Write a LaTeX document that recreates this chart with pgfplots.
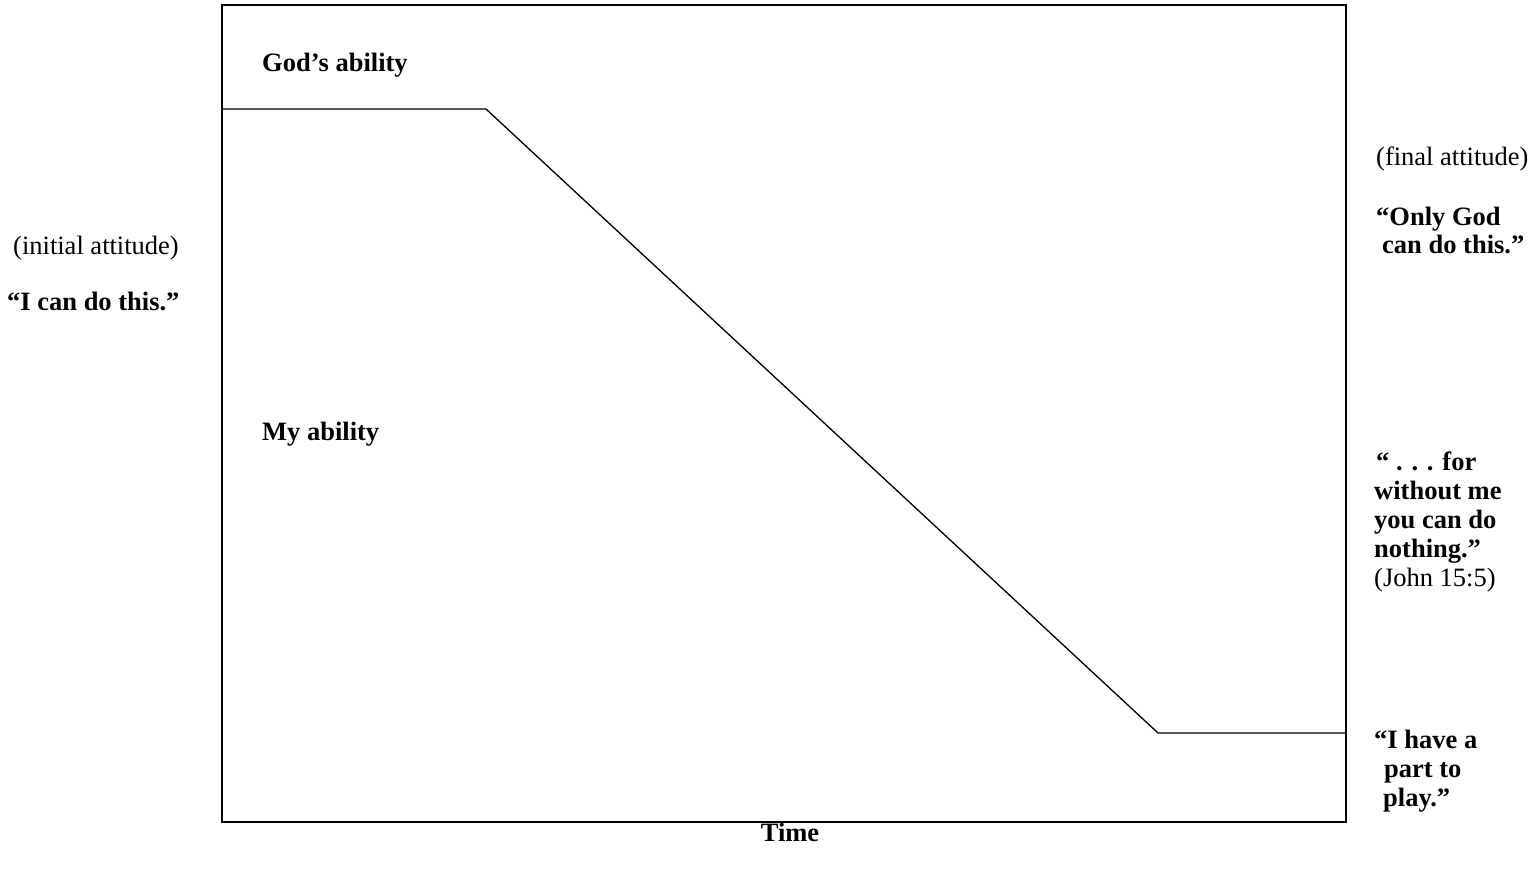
\documentclass[border=0pt]{standalone}
\usepackage{pgfplots}
\pgfplotsset{compat=1.18}
\usepackage{fontspec}
\setmainfont{Liberation Serif}
\begin{document}
\fontsize{26.5}{30}\selectfont
\begin{tikzpicture}[lbl/.style={inner sep=0pt, anchor=base west, font=\fontsize{26.5}{30}\selectfont}]
\path[use as bounding box] (-222pt,-51pt) rectangle (1318pt,822pt);
\begin{axis}[
  at={(0pt,0pt)}, anchor=origin,
  scale only axis, width=1124pt, height=817pt,
  xmin=0, xmax=1124, ymin=0, ymax=817,
  xtick=\empty, ytick=\empty,
  axis line style={line width=1.6pt},
  clip=false,
]
\addplot[black, line width=1.3pt, mark=none] coordinates {(0,713) (264,713) (936,89) (1124,89)};
\node[lbl] at (axis cs:40,750) {\textbf{God’s ability}};
\node[lbl] at (axis cs:40,381) {\textbf{My ability}};
\node[lbl] at (axis cs:-209,567) {(initial attitude)};
\node[lbl] at (axis cs:-215,511) {\textbf{“I can do this.”}};
\node[lbl] at (axis cs:1154,656) {(final attitude)};
\node[lbl] at (axis cs:1154,596) {\textbf{“Only God}};
\node[lbl] at (axis cs:1160,568) {\textbf{can do this.”}};
\node[lbl] at (axis cs:1154,351) {\textbf{“ . . . for}};
\node[lbl] at (axis cs:1152,322) {\textbf{without me}};
\node[lbl] at (axis cs:1152,293) {\textbf{you can do}};
\node[lbl] at (axis cs:1152,264) {\textbf{nothing.”}};
\node[lbl] at (axis cs:1152,235) {(John 15:5)};
\node[lbl] at (axis cs:1152,73) {\textbf{“I have a}};
\node[lbl] at (axis cs:1162,44) {\textbf{part to}};
\node[lbl] at (axis cs:1161,16) {\textbf{play.”}};
\node[lbl, anchor=base] at (axis cs:568,-19) {\textbf{Time}};
\end{axis}
\end{tikzpicture}
\end{document}
